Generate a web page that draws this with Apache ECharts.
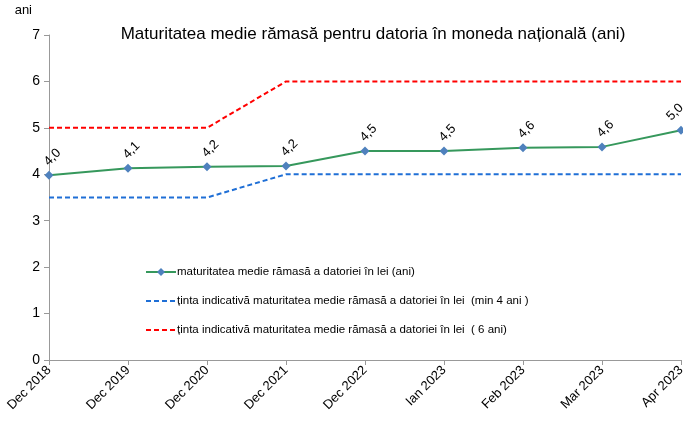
<!DOCTYPE html>
<html><head><meta charset="utf-8">
<script src="https://cdn.jsdelivr.net/npm/echarts@6/dist/echarts.min.js"></script>
<style>html,body{margin:0;padding:0;background:#fff}#c{width:683px;height:423px}</style>
</head><body><div id="c"></div>
<script>
const categories = ['Dec 2018','Dec 2019','Dec 2020','Dec 2021','Dec 2022','Ian 2023','Feb 2023','Mar 2023','Apr 2023'];
const maturitate = [3.98, 4.13, 4.16, 4.18, 4.50, 4.50, 4.57, 4.59, 4.95];
const tintaMin = [3.5, 3.5, 3.5, 4, 4, 4, 4, 4, 4];
const tinta6 = [5, 5, 5, 6, 6, 6, 6, 6, 6];
const names = [
  'maturitatea medie rămasă a datoriei în lei (ani)',
  'ținta indicativă maturitatea medie rămasă a datoriei în lei  (min 4 ani )',
  'ținta indicativă maturitatea medie rămasă a datoriei în lei  ( 6 ani)'
];
const font = 'Liberation Sans, Arial, sans-serif';
const last = maturitate.length - 1;
const matData = maturitate.map((v, i) => i === last
  ? {value: v, label: {position: [-1.5, -13.5]}}
  : {value: v});
const chart = echarts.init(document.getElementById('c'));
chart.setOption({
  animation: false,
  textStyle: {fontFamily: font},
  title: {text: 'Maturitatea medie rămasă pentru datoria în moneda națională (ani)', left: 368, top: 21, textAlign: 'center',
    textStyle: {fontSize: 17, fontWeight: 'normal', color: '#000', fontFamily: font}},
  grid: {left: 49, right: 2, top: 35, bottom: 63, containLabel: false, outerBoundsMode: 'none'},
  legend: {orient: 'vertical', left: 140, top: 261, itemGap: 17, itemWidth: 30, itemHeight: 10,
    textStyle: {fontSize: 11.5, color: '#000', fontFamily: font, padding: [0,0,0,-4]},
    data: [
      {name: names[0]},
      {name: names[1], itemStyle: {opacity: 0}},
      {name: names[2], itemStyle: {opacity: 0}}
    ]},
  xAxis: {type: 'category', data: categories, boundaryGap: false,
    axisLine: {lineStyle: {color: '#999'}}, axisTick: {show: true, length: 5, lineStyle: {color: '#999'}},
    axisLabel: {rotate: 45, fontSize: 13, color: '#000', interval: 0, margin: 8}},
  yAxis: {type: 'value', min: 0, max: 7, interval: 1, name: 'ani', nameLocation: 'end', nameGap: 0,
    nameTextStyle: {fontSize: 13, color: '#000', align: 'right', padding: [0, 17, 18, 0]},
    axisLine: {show: true, lineStyle: {color: '#999'}}, axisTick: {show: true, length: 5, lineStyle: {color: '#999'}},
    axisLabel: {fontSize: 14, color: '#000', margin: 9}, splitLine: {show: false}},
  series: [
    {name: names[0], type: 'line', data: matData, symbol: 'diamond', symbolSize: 9,
      lineStyle: {color: '#36985C', width: 2}, itemStyle: {color: '#4F81BD'},
      label: {show: true, position: [8, -13.5], rotate: 45, align: 'center', verticalAlign: 'middle',
        fontSize: 13, color: '#000', formatter: p => p.value.toFixed(1).replace('.', ',')}, z: 5},
    {name: names[1], type: 'line', data: tintaMin, symbol: 'none',
      lineStyle: {color: '#1F6FD6', width: 2, type: [5, 3]}, itemStyle: {color: '#1F6FD6'}},
    {name: names[2], type: 'line', data: tinta6, symbol: 'none',
      lineStyle: {color: '#FF0000', width: 2, type: [5, 3]}, itemStyle: {color: '#FF0000'}}
  ]
});
</script></body></html>
